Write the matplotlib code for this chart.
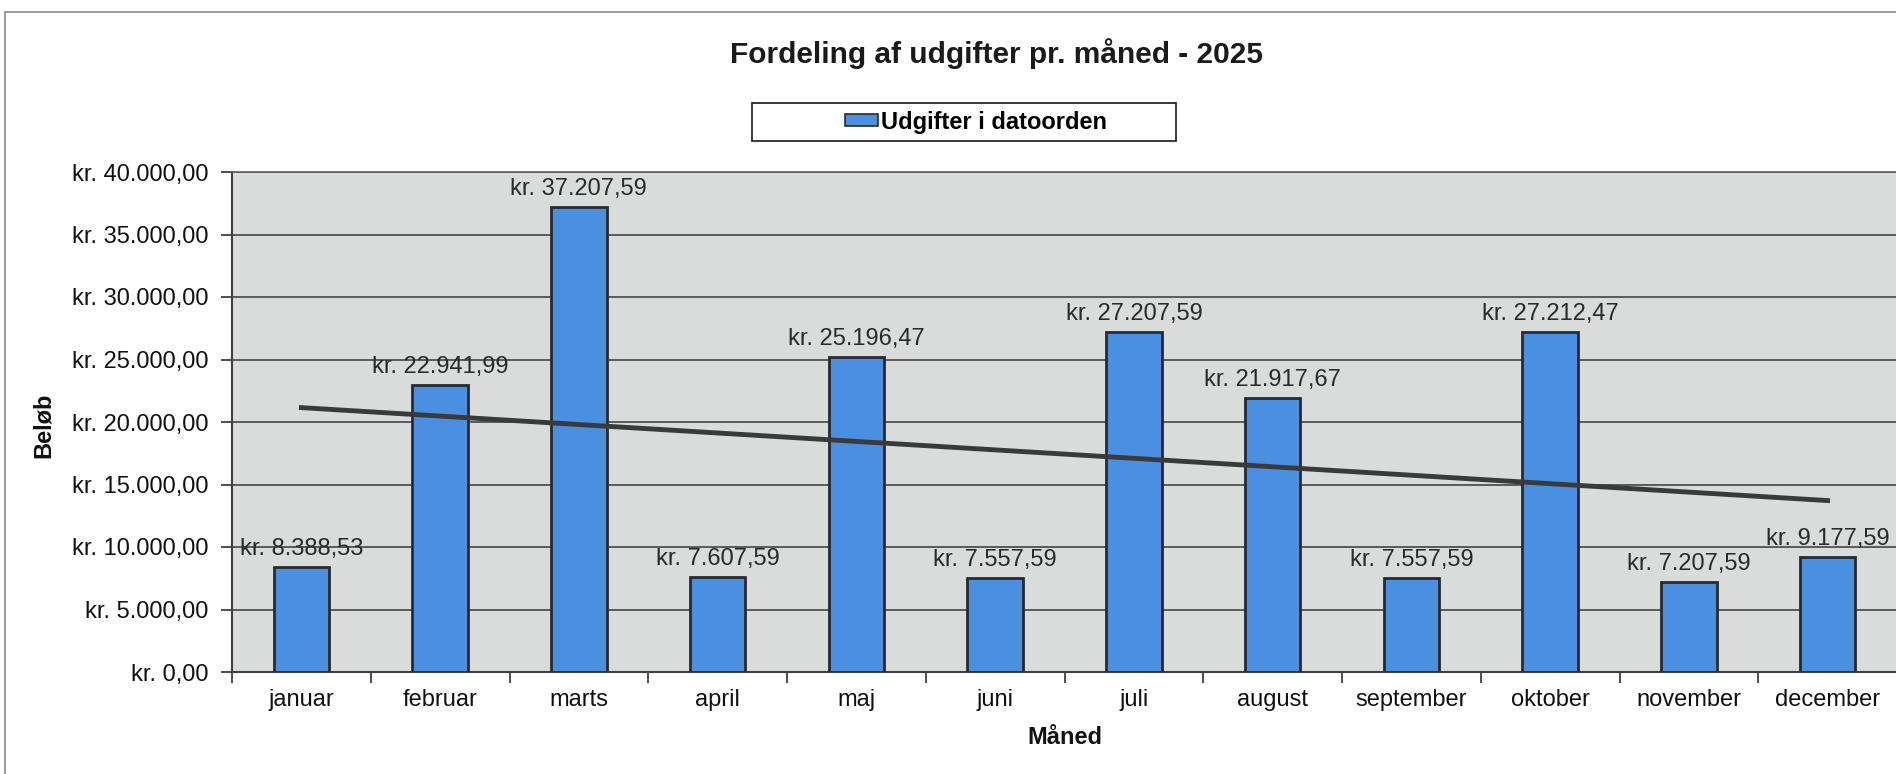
import numpy as np
import matplotlib
matplotlib.use("Agg")
import matplotlib.pyplot as plt
from matplotlib.patches import Rectangle, Patch

plt.rcParams['font.family'] = ['Liberation Sans', 'DejaVu Sans']

maaneder = ['januar', 'februar', 'marts', 'april', 'maj', 'juni',
            'juli', 'august', 'september', 'oktober', 'november', 'december']
udgifter = [8388.53, 22941.99, 37207.59, 7607.59, 25196.47, 7557.59,
            27207.59, 21917.67, 7557.59, 27212.47, 7207.59, 9177.59]
y_ticks = [0, 5000, 10000, 15000, 20000, 25000, 30000, 35000, 40000]


def kr(v):
    # dansk format: kr. 12.345,67
    s = f"{v:,.2f}".replace(",", "X").replace(".", ",").replace("X", ".")
    return "kr. " + s


W, H = 1896, 774
fig = plt.figure(figsize=(W / 100, H / 100), dpi=100)
fig.patch.set_facecolor('white')

# ydre ramme om diagrammet
fig.patches.append(Rectangle((5 / W, -0.05), 1.2, 1 - 12 / H + 0.05,
                             transform=fig.transFigure, fill=False,
                             edgecolor='#8a8a8a', linewidth=1.2))

left, right, top, bottom = 232, 1897, 172, 672
ax = fig.add_axes([left / W, 1 - bottom / H, (right - left) / W, (bottom - top) / H])
ax.set_facecolor('#d9dcda')

x = np.arange(len(maaneder))
bars = ax.bar(x, udgifter, width=0.4, color='#4a8fe0', edgecolor='#2a2a2a',
              linewidth=2, zorder=3, label='Udgifter i datoorden')

# lineær tendenslinje
k, m = np.polyfit(x, udgifter, 1)
ax.plot(x, k * x + m, color='#3a3a3a', linewidth=3.5, zorder=4)

ax.bar_label(bars, labels=[kr(v) for v in udgifter], padding=5,
             fontsize=17, color='#2a2a2a', zorder=5)

ax.set_xlim(-0.5, len(maaneder) - 0.5)
ax.set_ylim(0, 40000)
ax.set_yticks(y_ticks)
ax.set_yticklabels([kr(v) for v in y_ticks])
ax.grid(axis='y', color='#505050', linewidth=1.3, zorder=1)
ax.set_axisbelow(True)

ax.set_xticks(x)
ax.set_xticklabels(maaneder)
ax.set_xticks(np.arange(-0.5, len(maaneder)), minor=True)
ax.tick_params(axis='x', which='major', length=0, pad=12, labelsize=17, labelcolor='#111111')
ax.tick_params(axis='x', which='minor', length=8, width=1.3, color='#404040')
ax.tick_params(axis='y', length=8, width=1.3, color='#404040', pad=9,
               labelsize=17, labelcolor='#111111')

for side in ['left', 'bottom']:
    ax.spines[side].set_color('#404040')
    ax.spines[side].set_linewidth(1.5)
ax.spines['top'].set_color('#606060')
ax.spines['top'].set_linewidth(1.2)
ax.spines['right'].set_visible(False)

ax.set_xlabel('Måned', fontsize=17, fontweight='bold', labelpad=11, color='#111111')
fig.text(43 / W, 1 - 425 / H, 'Beløb', rotation=90, fontsize=17,
         fontweight='bold', ha='center', va='center', color='#111111')

fig.text(996 / W, 1 - 54 / H, 'Fordeling af udgifter pr. måned - 2025',
         fontsize=21.5, fontweight='bold', ha='center', va='center', color='#1a1a1a')

# forklaring
fig.patches.append(Rectangle((752 / W, 1 - 141 / H), 424 / W, 38 / H,
                             transform=fig.transFigure, facecolor='white',
                             edgecolor='#2a2a2a', linewidth=1.3))
leg = fig.legend(handles=[Patch(facecolor='#4a8fe0', edgecolor='#2a2a2a', linewidth=1.2,
                                label='Udgifter i datoorden')],
                 loc='center', bbox_to_anchor=(976 / W, 1 - 122 / H), frameon=False,
                 handlelength=1.4, handleheight=0.45, handletextpad=0.1,
                 prop={'size': 17, 'weight': 'bold'})

fig.savefig('out.png', dpi=100)
